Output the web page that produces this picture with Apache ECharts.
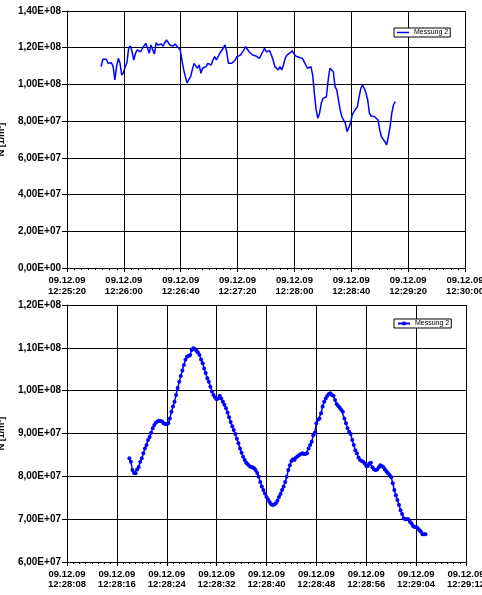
<!DOCTYPE html>
<html>
<head>
<meta charset="utf-8">
<script src="https://cdn.jsdelivr.net/npm/echarts@6/dist/echarts.min.js"></script>
<style>
  html, body { margin: 0; padding: 0; background: #fff; }
  #chart { width: 482px; height: 595px; }
</style>
</head>
<body>
<div id="chart"></div>
<script>
// Labels
const dateLabel = '09.12.09';
const legendLabel = 'Messung 2';
const yAxisTitle = 'N [1/m³]';

// Upper panel: whole run, one value every 1.21 s (values in 1e6)
const upperStart = '12:25:44';
const upperStep = 1.21;
const upperValues = [
  109.7, 113.7, 112.9, 113.7, 111.5, 112.2, 111.8, 109.7, 102.4, 109.7,
  114.2, 111.5, 105.1, 106.4, 109.7, 111.8, 119.7, 120.9, 117.8, 113.3,
  117.0, 118.8, 119.7, 117.8, 119.7, 118.8, 122.4, 119.7, 117.0, 121.5,
  118.8, 116.6, 122.7, 121.5, 120.6, 122.0, 120.9, 122.7, 124.2, 123.3,
  121.5, 122.0, 120.9, 122.0, 120.9, 120.9, 118.8, 113.3, 107.9, 104.2,
  100.9, 101.5, 104.2, 107.9, 111.5, 112.4, 108.8, 110.6, 106.1, 108.8,
  107.9, 109.7, 111.5, 112.4, 110.6, 113.3, 115.1, 113.3, 115.1, 117.0,
  117.8, 119.7, 121.5, 117.8, 111.5, 112.4, 111.5, 112.4, 113.3, 115.1,
  116.0,
  116.0, 117.0, 118.8, 120.6, 120.2, 117.8, 117.0, 116.0, 117.0, 115.5,
  116.0, 114.2, 116.0, 117.8, 119.7, 117.8, 117.0, 118.4, 116.0, 113.3,
  109.7, 108.8, 107.9, 109.7, 107.9, 110.6, 114.2, 116.0, 115.1, 117.3,
  118.4, 117.0, 115.5, 116.0, 114.8, 115.5, 114.2, 112.4, 111.5, 108.8,
  107.9, 109.7, 105.1, 95.2, 86.1, 81.6, 84.3, 89.7, 92.4, 92.4,
  93.3, 102.4, 108.8, 109.7, 106.9, 98.8, 97.0, 91.5, 86.1, 82.4,
  81.6, 78.8, 74.3, 75.2, 78.8, 83.4, 85.2, 86.1, 87.9, 93.3,
  97.9, 99.7, 97.9, 95.2, 91.5, 84.3, 82.8, 82.1, 82.4, 81.6,
  80.6, 75.2, 71.5, 70.7, 68.8, 67.0, 71.5, 77.0, 84.3, 88.8,
  90.6
];
const upperTimeTicks = { min: '12:25:20', max: '12:30:00', step: 40 };
const upperValueTicks = { min: 0, max: 140, step: 20 };

// Lower panel: detail section, one value every 0.25 s (values in 1e6)
const lowerStart = '12:28:18';
const lowerStep = 0.25;
const lowerValues = [
  84.2, 83.4, 81.5, 80.8, 80.7, 81.6, 82.2, 83.4, 84.2, 85.4,
  86.5, 87.3, 88.5, 89.2, 90.2, 91.2, 92.0, 92.5, 92.8, 93.0,
  92.9, 92.8, 92.4, 92.2, 92.2, 92.4, 93.5, 95.1, 96.3, 97.4,
  99.0, 100.6, 102.1, 103.4, 104.7, 106.0, 107.2, 107.9, 108.1, 108.3,
  109.5, 109.9, 109.7, 109.3, 108.9, 108.3, 107.3, 106.4, 105.2, 104.1,
  102.9, 102.1, 100.9, 99.8, 99.0, 98.4, 98.0, 98.2, 98.8, 98.2,
  97.4, 96.7, 95.9, 94.9, 93.8, 92.7, 91.7, 90.8, 89.9, 88.8,
  87.7, 86.5, 85.5, 84.6, 83.8, 83.2, 82.8, 82.4, 82.2, 82.1,
  81.9, 81.5, 80.8, 79.9, 78.7, 77.6, 76.8, 76.0, 75.2, 74.6,
  74.0, 73.5, 73.3, 73.4, 73.7, 74.3, 75.2, 75.9, 76.8, 77.6,
  78.7, 79.9,
  81.5, 82.6, 83.6, 84.0, 83.8, 84.4, 84.7, 85.0, 85.2, 85.4,
  85.2, 85.2, 85.4, 86.5, 87.3, 88.1, 89.6, 90.2, 92.4, 93.2,
  93.5, 94.7, 96.3, 97.4, 98.2, 98.8, 99.2, 99.4, 99.0, 98.8,
  97.8, 96.9, 96.4, 96.0, 95.5, 95.1, 93.5, 92.4, 91.2, 90.4,
  89.9, 88.5, 87.3, 86.1, 85.4, 84.4, 83.8, 83.6, 83.4, 83.0,
  82.4, 82.4, 83.0, 83.2, 82.1, 81.6, 81.5, 81.6, 82.1, 82.6,
  82.4, 82.1, 81.6, 81.1, 80.7, 80.3, 79.8, 78.4, 76.8, 75.6,
  74.5, 73.3, 72.1, 71.2, 70.2, 70.0, 70.0, 70.0, 69.4, 69.0,
  68.4, 68.2, 68.2, 67.9, 67.5, 67.1, 66.5, 66.5, 66.5
];
const lowerTimeTicks = { min: '12:28:08', max: '12:29:12', step: 8 };
const lowerValueTicks = { min: 60, max: 120, step: 10 };

const UNIT = 1e6;
const FONT = 'Liberation Sans, Arial, sans-serif';

function toSec(hms) {
  const p = hms.split(':').map(Number);
  return p[0] * 3600 + p[1] * 60 + p[2];
}
function pad2(n) { return String(n).padStart(2, '0'); }
function timeLabel(sec) {
  const s = Math.round(sec);
  return dateLabel + '\n' + pad2(Math.floor(s / 3600)) + ':' +
    pad2(Math.floor((s % 3600) / 60)) + ':' + pad2(s % 60);
}
function sciLabel(v) {
  if (v === 0) return '0,00E+00';
  const e = Math.floor(Math.log10(Math.abs(v)) + 1e-9);
  const m = v / Math.pow(10, e);
  return m.toFixed(2).replace('.', ',') + 'E+' + pad2(e);
}
function buildSeriesData(start, step, values) {
  const t0 = toSec(start);
  return values.map((v, i) => [t0 + i * step, v * UNIT]);
}

function xAxisFor(gridIndex, ticks, lineHeight) {
  return {
    type: 'value', gridIndex,
    min: toSec(ticks.min), max: toSec(ticks.max), interval: ticks.step,
    axisLine: { show: true, onZero: false, lineStyle: { color: '#000', width: 1 } },
    axisTick: { show: true, length: 4, lineStyle: { color: '#000' } },
    minorTick: { show: true, splitNumber: 8, length: 2, lineStyle: { color: '#000' } },
    splitLine: { show: true, lineStyle: { color: '#000', width: 1 } },
    axisLabel: {
      formatter: timeLabel, margin: 7, lineHeight,
      showMinLabel: true, showMaxLabel: true, hideOverlap: false,
      fontSize: 9.5, fontWeight: 'bold', fontFamily: FONT, color: '#000'
    }
  };
}
function yAxisFor(gridIndex, ticks) {
  return {
    type: 'value', gridIndex,
    min: ticks.min * UNIT, max: ticks.max * UNIT, interval: ticks.step * UNIT,
    axisLine: { show: true, lineStyle: { color: '#000', width: 1 } },
    axisTick: { show: true, length: 5, lineStyle: { color: '#000' } },
    splitLine: { show: true, lineStyle: { color: '#000', width: 1 } },
    axisLabel: {
      formatter: sciLabel, margin: 6,
      fontSize: 10, fontWeight: 'bold', fontFamily: FONT, color: '#000'
    },
    name: yAxisTitle, nameLocation: 'middle', nameGap: 61, nameRotate: 90,
    nameTextStyle: { fontSize: 9, fontWeight: 'bold', fontFamily: FONT, color: '#000' }
  };
}
function legendAt(top, item, itemHeight) {
  return {
    data: [item], left: 394, top,
    orient: 'horizontal', itemWidth: 12, itemHeight, itemGap: 0,
    padding: [1, 2, 1, 3], borderColor: '#000', borderWidth: 1,
    backgroundColor: '#fff', selectedMode: false,
    formatter: () => legendLabel,
    textStyle: { fontSize: 7, fontFamily: FONT, color: '#000', padding: [0, 0, 0, 0] }
  };
}

const chart = echarts.init(document.getElementById('chart'), null, { renderer: 'canvas' });
chart.setOption({
  backgroundColor: '#fff',
  animation: false,
  grid: [
    { left: 67, right: 17, top: 11, height: 257, containLabel: false, outerBoundsMode: 'none' },
    { left: 67, right: 16, top: 305, height: 257, containLabel: false, outerBoundsMode: 'none' }
  ],
  xAxis: [xAxisFor(0, upperTimeTicks, 11), xAxisFor(1, lowerTimeTicks, 10)],
  yAxis: [yAxisFor(0, upperValueTicks), yAxisFor(1, lowerValueTicks)],
  legend: [
    legendAt(28, { name: 'Verlauf', icon: 'rect' }, 1.5),
    legendAt(319, { name: 'Ausschnitt' }, 5)
  ],
  series: [
    {
      name: 'Verlauf', type: 'line', xAxisIndex: 0, yAxisIndex: 0,
      data: buildSeriesData(upperStart, upperStep, upperValues),
      symbol: 'none', color: '#0000ff',
      lineStyle: { color: '#0000ff', width: 1.5 }
    },
    {
      name: 'Ausschnitt', type: 'line', xAxisIndex: 1, yAxisIndex: 1,
      data: buildSeriesData(lowerStart, lowerStep, lowerValues),
      symbol: 'circle', symbolSize: 4, showSymbol: true, showAllSymbol: true,
      color: '#0000ff',
      itemStyle: { color: '#0000ff' },
      lineStyle: { color: '#0000ff', width: 1.5 }
    }
  ]
});
</script>
</body>
</html>
